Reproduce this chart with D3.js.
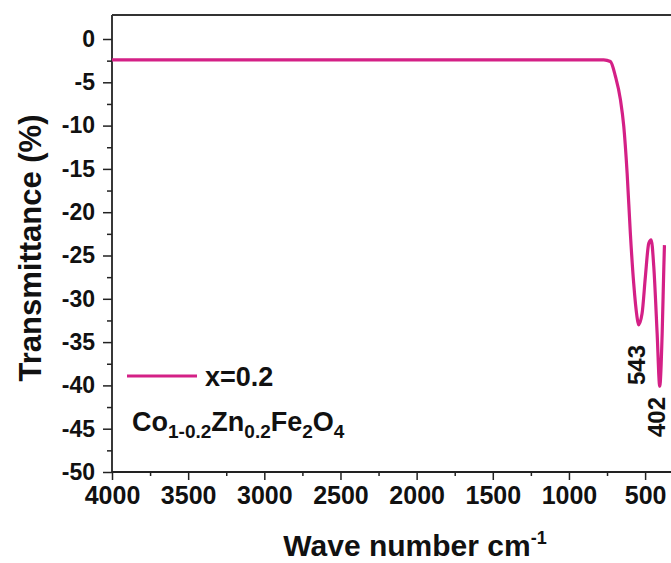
<!DOCTYPE html>
<html>
<head>
<meta charset="utf-8">
<script src="https://cdn.jsdelivr.net/npm/d3@7"></script>
<style>
body { margin: 0; background: #fff; }
text { font-family: "Liberation Sans", Arial, sans-serif; font-weight: bold; fill: #111; }
</style>
</head>
<body>
<script>
var w = 671;
var h = 563;

// spectrum (cm-1, %)
var waveNumber = [4000, 3000, 2000, 1000, 800, 772, 728, 695, 662, 640, 618, 597, 575, 553, 543, 520, 498, 476, 460, 443, 421, 404, 388, 377, 373];
var transmittance = [-2.4, -2.4, -2.4, -2.4, -2.4, -2.4, -2.6, -4.3, -7.0, -10.1, -15.5, -22.4, -28.2, -32.1, -33.0, -31.7, -27.4, -23.6, -23.2, -26.3, -34.0, -40.1, -34.0, -26.3, -23.8];

var xTicks = [4000, 3500, 3000, 2500, 2000, 1500, 1000, 500];
var xMinor = [3750, 3250, 2750, 2250, 1750, 1250, 750];
var yTicks = [0, -5, -10, -15, -20, -25, -30, -35, -40, -45, -50];
var yMinor = [-2.5, -7.5, -12.5, -17.5, -22.5, -27.5, -32.5, -37.5, -42.5, -47.5];

var peaks = [543, 402];
var peakLabelPos = [[637, 365], [657, 417]]; // label centres

var mLeft = 112, mRight = 671, mTop = 15, mBottom = 472;

var svg = d3.select('body').append('svg')
  .attr('width', w)
  .attr('height', h);

var x = d3.scaleLinear().domain([4000, 330]).range([mLeft, mRight]);
var y = d3.scaleLinear().domain([-50, 0]).range([mBottom, 39]);

var lineColor = '#d42086';
var fmt = function(d) { return String(d); };

// x axis
var xAxis = svg.append('g')
  .attr('transform', 'translate(0,' + mBottom + ')')
  .call(d3.axisBottom(x).tickValues(xTicks).tickFormat(fmt).tickSize(8).tickPadding(6).tickSizeOuter(0));
xAxis.select('.domain').remove();
xAxis.selectAll('text').style('font-size', '25px').attr('fill', '#111');
xAxis.selectAll('line').attr('stroke', '#222').attr('stroke-width', 1.5);
svg.append('g')
  .attr('transform', 'translate(0,' + mBottom + ')')
  .call(d3.axisBottom(x).tickValues(xMinor).tickSize(4).tickFormat(''))
  .call(function(g) { g.select('.domain').remove(); })
  .selectAll('line').attr('stroke', '#222').attr('stroke-width', 1.5);

// y axis
var yAxis = svg.append('g')
  .attr('transform', 'translate(' + mLeft + ',0)')
  .call(d3.axisLeft(y).tickValues(yTicks).tickFormat(fmt).tickSize(9).tickPadding(8).tickSizeOuter(0));
yAxis.select('.domain').remove();
yAxis.selectAll('text').style('font-size', '23px').attr('fill', '#111');
yAxis.selectAll('line').attr('stroke', '#222').attr('stroke-width', 1.5);
svg.append('g')
  .attr('transform', 'translate(' + mLeft + ',0)')
  .call(d3.axisLeft(y).tickValues(yMinor).tickSize(5).tickFormat(''))
  .call(function(g) { g.select('.domain').remove(); })
  .selectAll('line').attr('stroke', '#222').attr('stroke-width', 1.5);

// frame lines (right side is cut off)
svg.append('line').attr('x1', mLeft).attr('x2', mRight).attr('y1', mBottom).attr('y2', mBottom)
  .attr('stroke', '#222').attr('stroke-width', 1.8);
svg.append('line').attr('x1', mLeft).attr('x2', mLeft).attr('y1', mTop).attr('y2', mBottom)
  .attr('stroke', '#222').attr('stroke-width', 1.8);
svg.append('line').attr('x1', mLeft).attr('x2', mRight).attr('y1', mTop).attr('y2', mTop)
  .attr('stroke', '#333').attr('stroke-width', 2);

// spectrum
var pts = waveNumber.map(function(d, i) { return [d, transmittance[i]]; });
var line = d3.line()
  .x(function(d) { return x(d[0]); })
  .y(function(d) { return y(d[1]); })
  .curve(d3.curveMonotoneX);
svg.append('path')
  .datum(pts)
  .attr('d', line)
  .attr('fill', 'none')
  .attr('stroke', lineColor)
  .attr('stroke-width', 3.2)
  .attr('stroke-linejoin', 'round');

// peak labels
peaks.forEach(function(p, i) {
  svg.append('text')
    .attr('transform', 'translate(' + peakLabelPos[i][0] + ',' + peakLabelPos[i][1] + ') rotate(-90)')
    .attr('text-anchor', 'middle')
    .attr('dy', '0.35em')
    .style('font-size', '24px')
    .text(p);
});

// legend
svg.append('line').attr('x1', 127).attr('x2', 197).attr('y1', 376).attr('y2', 376)
  .attr('stroke', lineColor).attr('stroke-width', 3);
svg.append('text').attr('x', 205).attr('y', 386).style('font-size', '27px').text('x=0.2');

var formula = svg.append('text').attr('x', 132).attr('y', 431).style('font-size', '27px');
[['Co', 0], ['1-0.2', 1], ['Zn', 0], ['0.2', 1], ['Fe', 0], ['2', 1], ['O', 0], ['4', 1]].forEach(function(s, i, arr) {
  var prevSub = i > 0 ? arr[i - 1][1] : 0;
  formula.append('tspan')
    .attr('dy', s[1] ? 7 : (prevSub ? -7 : 0))
    .style('font-size', s[1] ? '19px' : '27px')
    .text(s[0]);
});

// axis titles
svg.append('text')
  .attr('transform', 'translate(30,' + 248 + ') rotate(-90)')
  .attr('text-anchor', 'middle')
  .attr('dy', '0.35em')
  .style('font-size', '31px')
  .text('Transmittance (%)');

var xt = svg.append('text')
  .attr('x', 415).attr('y', 556)
  .attr('text-anchor', 'middle')
  .style('font-size', '30px');
xt.append('tspan').text('Wave number cm');
xt.append('tspan').attr('dy', -12).style('font-size', '18px').text('-1');
</script>
</body>
</html>
